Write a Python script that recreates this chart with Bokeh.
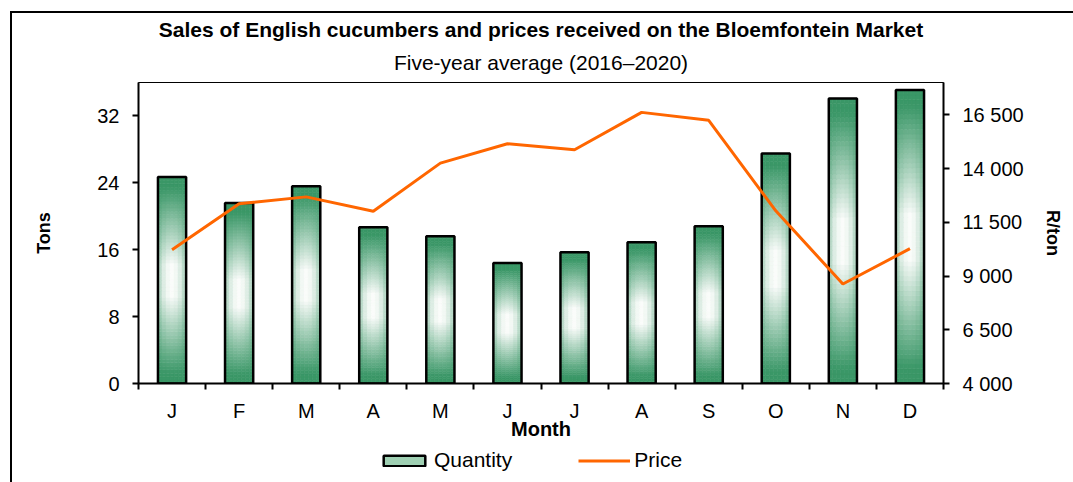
import numpy as np
from bokeh.plotting import figure
from bokeh.layouts import column
from bokeh.models import (ColumnDataSource, Range1d, LinearAxis, FixedTicker, Legend,
                          LegendItem, Title)
from bokeh.embed import file_html
from bokeh.resources import INLINE

# ---- data ----
months = ["J", "F", "M", "A", "M", "J", "J", "A", "S", "O", "N", "D"]
quantity = [24.7, 21.6, 23.6, 18.7, 17.6, 14.4, 15.7, 16.9, 18.8, 27.5, 34.1, 35.1]
price = [10220, 12360, 12680, 12010, 14250, 15150, 14870, 16610, 16240, 12030, 8630, 10270]
tons_ticks = [0, 8, 16, 24, 32]
price_ticks = [4000, 6500, 9000, 11500, 14000, 16500]
price_tick_labels = ["4 000", "6 500", "9 000", "11 500", "14 000", "16 500"]

FONT = "Liberation Sans"
GREEN = np.array([58, 151, 103])
WHITE = np.array([250, 252, 250])
ORANGE = "#ff6600"
BAR_W = 0.42
NROWS, NCOLS = 60, 7

x = list(range(1, len(months) + 1))

p = figure(frame_width=805, frame_height=301, x_range=Range1d(0.5, 12.5),
           y_range=Range1d(0, 36), output_backend="svg", toolbar_location=None, tools="")
p.min_border_left = 126
p.min_border_right = 130
p.min_border_top = 69
p.min_border_bottom = 62
p.extra_y_ranges = {"price": Range1d(4000, 18000)}
p.grid.visible = False
p.outline_line_color = "black"
p.outline_line_width = 1

# ---- gradient bars (stacked cells per bar) ----
segs = dict(left=[], right=[], bottom=[], top=[], color=[])
for xi, q in zip(x, quantity):
    for r in range(NROWS):
        v0, v1 = r / NROWS, (r + 1) / NROWS
        tv = abs((v0 + v1) / 2 - 0.5) * 2
        tv = min(1.0, max(0.0, (tv - 0.15) / 0.75))
        for c in range(NCOLS):
            u0 = -1 + 2 * c / NCOLS
            u1 = -1 + 2 * (c + 1) / NCOLS
            uc = (u0 + u1) / 2
            th = 0.45 * abs(uc) ** 2
            t = 1 - (1 - tv) * (1 - th)
            rgb = (WHITE * (1 - t) + GREEN * t).astype(int)
            segs["left"].append(xi + u0 * BAR_W / 2)
            segs["right"].append(xi + u1 * BAR_W / 2)
            segs["bottom"].append(q * v0)
            segs["top"].append(q * v1)
            segs["color"].append("#%02x%02x%02x" % tuple(rgb))
p.quad(left="left", right="right", bottom="bottom", top="top", fill_color="color",
       line_color="color", line_width=0.6, source=ColumnDataSource(segs))

p.vbar(x=x, top=quantity, width=BAR_W, fill_color=None, line_color="black", line_width=2.5)
p.line(x, price, y_range_name="price", line_color=ORANGE, line_width=3)

# ---- axes ----
xa = p.xaxis[0]
xa.ticker = FixedTicker(ticks=x, minor_ticks=[v - 0.5 for v in x] + [x[-1] + 0.5])
xa.major_label_overrides = {v: m for v, m in zip(x, months)}
xa.major_tick_out = 0
xa.major_tick_in = 0
xa.minor_tick_out = 6
xa.minor_tick_in = 0
xa.minor_tick_line_color = "black"
xa.minor_tick_line_width = 2
xa.axis_line_width = 2
xa.axis_label = "Month"
xa.major_label_standoff = 10
xa.axis_label_standoff = -7

ya = p.yaxis[0]
ya.ticker = FixedTicker(ticks=tons_ticks, minor_ticks=[])
ya.major_tick_out = 6
ya.major_tick_in = 0
ya.major_tick_line_width = 2
ya.axis_line_width = 2
ya.axis_label = "Tons"
ya.major_label_standoff = 13
ya.axis_label_standoff = 40

ra = LinearAxis(y_range_name="price", ticker=FixedTicker(ticks=price_ticks, minor_ticks=[]))
ra.major_label_overrides = {v: s for v, s in zip(price_ticks, price_tick_labels)}
ra.major_tick_out = 6
ra.major_tick_in = 0
ra.major_tick_line_width = 2
ra.axis_line_width = 2
ra.axis_label = "R/ton"
ra.major_label_standoff = 13
ra.axis_label_standoff = 16
p.add_layout(ra, "right")

for ax in (xa, ya, ra):
    ax.major_label_text_font = FONT
    ax.major_label_text_font_size = "20px"
    ax.major_label_text_color = "black"
    ax.axis_label_text_font = FONT
    ax.axis_label_text_font_size = "18px"
    ax.axis_label_text_font_style = "bold"
    ax.axis_label_text_color = "black"
    ax.axis_line_color = "black"
    ax.major_tick_line_color = "black"
xa.axis_label_text_font_size = "20px"

# ---- titles ----
sub = Title(text="Five-year average (2016\u20132020)", align="center", text_font=FONT,
            text_font_size="21px", text_font_style="normal", text_color="black",
            standoff=17)
main = Title(text="Sales of English cucumbers and prices received on the Bloemfontein Market",
             align="center", text_font=FONT, text_font_size="21px", text_font_style="bold",
             text_color="black", standoff=0)
p.add_layout(sub, "above")
p.add_layout(main, "above")

# ---- legend strip (separate small figure below the chart, same frame columns) ----
lp = figure(frame_width=805, frame_height=37, x_range=Range1d(0, 1), y_range=Range1d(0, 1),
            x_axis_type=None, y_axis_type=None, output_backend="svg",
            toolbar_location=None, tools="")
lp.min_border_left = 126
lp.min_border_right = 130
lp.min_border_top = 0
lp.min_border_bottom = 0
lp.grid.visible = False
lp.outline_line_color = None
# tiny legend keys, hidden underneath the legend's own white box
q_key = lp.vbar(x=[0.5], bottom=[0.55], top=[0.56], width=0.001, fill_color="#9fd0b3",
                line_color="black", line_width=2.5)
p_key = lp.line(x=[0.5, 0.501], y=[0.55, 0.55], line_color=ORANGE, line_width=3)
legend = Legend(items=[LegendItem(label="Quantity", renderers=[q_key]),
                       LegendItem(label="Price", renderers=[p_key])],
                orientation="horizontal", location=(240, 10), margin=0, padding=0,
                spacing=66, label_standoff=4, glyph_width=52, glyph_height=13,
                label_text_font=FONT, label_text_font_size="21px",
                label_text_color="black",
                border_line_alpha=0, background_fill_color="white",
                background_fill_alpha=1)
lp.add_layout(legend, "center")

layout = column(p, lp, spacing=0)
layout.styles = {"margin-left": "10px", "margin-top": "11px",
                 "border-left": "2px solid black", "border-top": "2px solid black"}

open("out.html", "w").write(file_html(layout, INLINE))
